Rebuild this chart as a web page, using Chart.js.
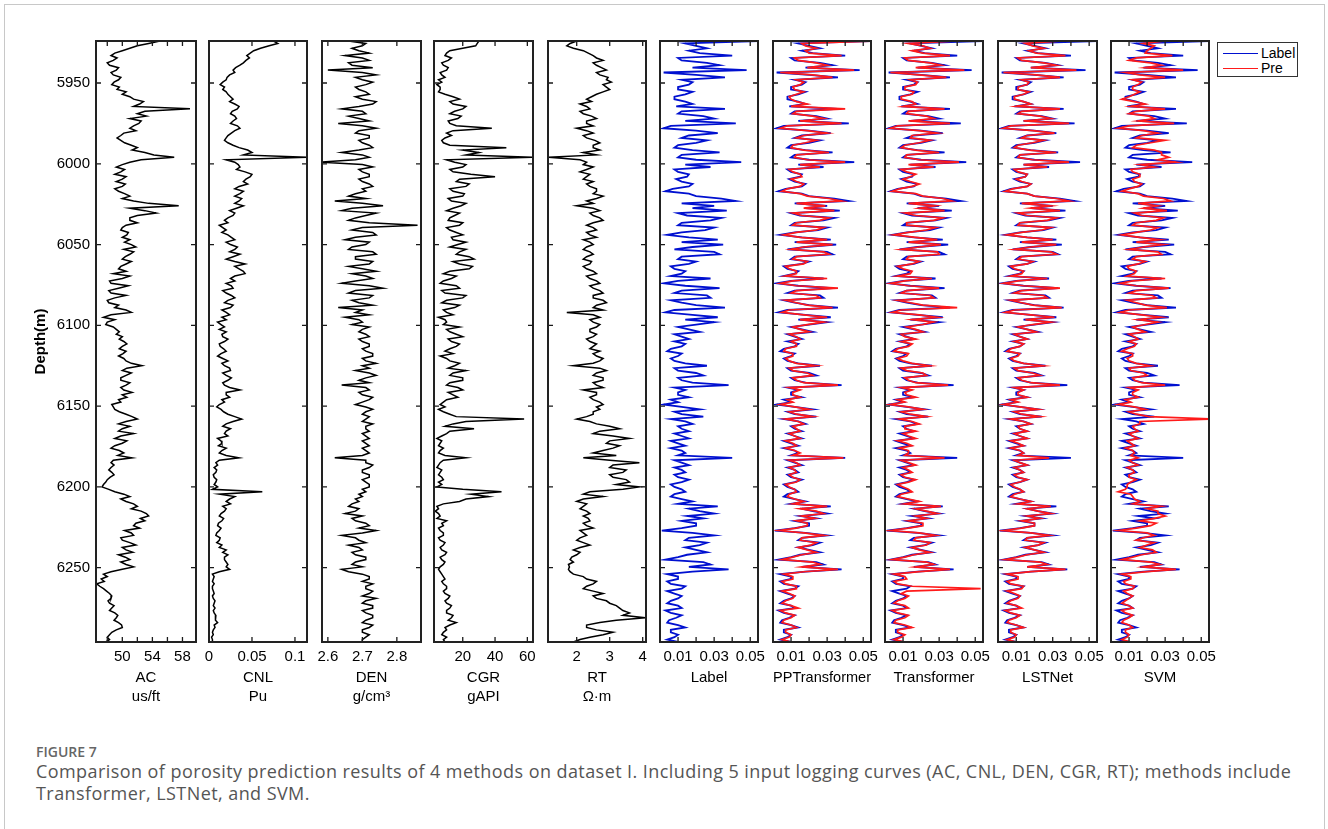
<!DOCTYPE html>
<html><head><meta charset="utf-8">
<script src="https://cdn.jsdelivr.net/npm/chart.js@4.4.1/dist/chart.umd.min.js"></script>
<style>
html,body{margin:0;padding:0;background:#fff;width:1328px;height:829px;overflow:hidden;position:relative;}
#frame{position:absolute;left:4px;top:4px;width:1319px;height:900px;border:1px solid #c8c8c8;}
canvas{position:absolute;top:0;}
#legend{position:absolute;left:1217px;top:42px;width:79px;height:33px;border:1.3px solid #333;background:#fff;font:14px 'Liberation Sans',Arial,sans-serif;color:#000;}
#legend .row{position:absolute;left:0;height:16px;line-height:16px;}
#legend .ln{position:absolute;left:5px;width:35px;height:0;top:8px;border-top:1.8px solid;}
#legend .tx{position:absolute;left:43px;top:0;}
#figlabel{position:absolute;left:36px;top:744px;font:600 14px/16px 'Open Sans',sans-serif;color:#666;}
#caption{position:absolute;left:36px;top:760px;font:400 18px/22px 'Open Sans',sans-serif;letter-spacing:0.43px;color:#555;white-space:nowrap;}
</style></head><body>
<div id="frame"></div>
<div id="plots"></div>
<div id="legend">
  <div class="row" style="top:2px"><div class="ln" style="border-color:#0010d0"></div><div class="tx">Label</div></div>
  <div class="row" style="top:17px"><div class="ln" style="border-color:#ff1a1a"></div><div class="tx">Pre</div></div>
</div>
<div id="figlabel">FIGURE 7</div>
<div id="caption">Comparison of porosity prediction results of 4 methods on dataset I. Including 5 input logging curves (AC, CNL, DEN, CGR, RT); methods include<br>Transformer, LSTNet, and SVM.</div>
<script>
// ---------------- depth grids (m) ----------------
const depth = [5924,5927,5930,5933,5936,5939,5942,5945,5948,5951,
5954,5957,5960,5963,5966,5969,5972,5975,5978,5981,
5984,5987,5990,5993,5996,5999,6002,6005,6008,6011,
6014,6017,6020,6023,6026,6029,6032,6035,6038,6041,
6044,6047,6050,6053,6056,6059,6062,6065,6068,6071,
6074,6077,6080,6083,6086,6089,6092,6095,6098,6101,
6104,6107,6110,6113,6116,6119,6122,6125,6128,6131,
6134,6137,6140,6143,6146,6149,6152,6155,6158,6161,
6164,6167,6170,6173,6176,6179,6182,6185,6188,6191,
6194,6197,6200,6203,6206,6209,6212,6215,6218,6221,
6224,6227,6230,6233,6236,6239,6242,6245,6248,6251,
6254,6257,6260,6263,6266,6269,6272,6275,6278,6281,
6284,6287,6290,6293,6296];
const depthMid = [5925.5,5928.5,5931.5,5934.5,5937.5,5940.5,5943.5,5946.5,5949.5,5952.5,
5955.5,5958.5,5961.5,5964.5,5967.5,5970.5,5973.5,5976.5,5979.5,5982.5,
5985.5,5988.5,5991.5,5994.5,5997.5,6000.5,6003.5,6006.5,6009.5,6012.5,
6015.5,6018.5,6021.5,6024.5,6027.5,6030.5,6033.5,6036.5,6039.5,6042.5,
6045.5,6048.5,6051.5,6054.5,6057.5,6060.5,6063.5,6066.5,6069.5,6072.5,
6075.5,6078.5,6081.5,6084.5,6087.5,6090.5,6093.5,6096.5,6099.5,6102.5,
6105.5,6108.5,6111.5,6114.5,6117.5,6120.5,6123.5,6126.5,6129.5,6132.5,
6135.5,6138.5,6141.5,6144.5,6147.5,6150.5,6153.5,6156.5,6159.5,6162.5,
6165.5,6168.5,6171.5,6174.5,6177.5,6180.5,6183.5,6186.5,6189.5,6192.5,
6195.5,6198.5,6201.5,6204.5,6207.5,6210.5,6213.5,6216.5,6219.5,6222.5,
6225.5,6228.5,6231.5,6234.5,6237.5,6240.5,6243.5,6246.5,6249.5,6252.5,
6255.5,6258.5,6261.5,6264.5,6267.5,6270.5,6273.5,6276.5,6279.5,6282.5,
6285.5,6288.5,6291.5,6294.5];
const depthTicks = [5950,6000,6050,6100,6150,6200,6250];

// ---------------- AC (us/ft) ----------------
const acVals = [55,52,50,48.5,48.8,48.3,49.2,48.8,49.5,48.6,
49.3,50,51.5,52.3,59,52,51,52.2,51,50.2,
49.3,50.3,52,53,56.9,51,49.2,49.8,50.5,49.2,
50,49.5,51,51.5,57.5,53,52,51,50.5,49.8,
50.6,51,51.2,50.2,51,50,50.5,49.5,48.8,50,
48.5,49.5,48.5,49,48.2,49,51.2,47.5,48,48.8,
49.6,50,50.2,50,50.5,49.5,50.5,52.6,50,50.5,
49.8,50.5,50.2,50,49.5,48.6,49,50.5,52,49.5,
50,51.5,49,50,48.5,50.2,51.3,48.5,48.5,48.6,
48.4,47.8,47.3,49,51,50.5,52,52.5,53.5,53,
51.5,50.3,51.5,50,51.8,50.5,49.5,51,50.5,50,
47.5,47.2,46.6,47.5,48.3,48.5,48.3,48.6,49,49.2,
49.5,50,48.6,48,47.8];
const acValsMid = [53.5,51,49,49.3,48,49.5,48.5,49.8,48.9,49.6,
50.5,51,52.8,51.5,53,53.2,52.5,51.5,51.8,49.8,
49.8,51.2,51.3,54.2,52.5,50,50.3,49,50,50.4,
49,50.3,50,53.5,51,54.5,51,52,50,50.8,
50,50.3,51.8,51.5,50.4,51.2,49.8,50.5,51,48.3,
50.8,48.2,50.5,48,49.5,50.5,48.5,49,47.8,49.2,
49.2,49.6,50.6,49.6,50.1,50.2,51.2,50.6,51.2,49.8,
51,49.8,51.3,50.6,49.8,48.8,49.6,51.3,50.5,51,
49.5,49.8,50.6,49,49.6,49.4,48.8,48.9,48.2,48.9,
48,47.5,48.2,50.2,49.8,51.5,51.2,53.2,52.4,51.8,
52.3,51.2,49.8,51,50,51.4,50.4,49.8,51.5,48.5,
48,47.6,47,47.9,48.6,48.1,48.9,48.3,49.4,48.9,
49.9,49.2,48.3,48.3];

// ---------------- CNL (Pu) ----------------
const cnlVals = [0.075,0.07,0.052,0.044,0.043,0.036,0.028,0.024,0.02,0.013,
0.016,0.022,0.028,0.03,0.033,0.025,0.032,0.025,0.036,0.026,
0.02,0.022,0.035,0.05,0.114,0.03,0.036,0.042,0.048,0.04,
0.035,0.04,0.03,0.035,0.04,0.024,0.028,0.018,0.012,0.02,
0.022,0.03,0.025,0.03,0.036,0.02,0.042,0.035,0.042,0.025,
0.02,0.028,0.02,0.03,0.018,0.025,0.02,0.015,0.01,0.018,
0.02,0.016,0.018,0.013,0.02,0.01,0.022,0.018,0.025,0.02,
0.022,0.018,0.036,0.02,0.015,0.012,0.014,0.022,0.038,0.02,
0.025,0.018,0.01,0.015,0.02,0.012,0.035,0.008,0.006,0.008,
0.006,0.008,0.01,0.062,0.03,0.02,0.016,0.018,0.012,0.015,
0.01,0.012,0.008,0.012,0.015,0.02,0.022,0.018,0.022,0.024,
0.004,0.005,0.006,0.004,0.006,0.005,0.006,0.007,0.006,0.008,
0.01,0.007,0.004,0.003,0.004];
const cnlValsMid = [0.08,0.06,0.048,0.047,0.04,0.031,0.03,0.021,0.016,0.018,
0.02,0.025,0.024,0.035,0.027,0.03,0.028,0.033,0.03,0.022,
0.018,0.028,0.045,0.04,0.02,0.034,0.032,0.05,0.043,0.045,
0.03,0.036,0.038,0.03,0.032,0.03,0.022,0.022,0.016,0.015,
0.026,0.02,0.033,0.024,0.028,0.03,0.03,0.04,0.03,0.03,
0.026,0.016,0.026,0.022,0.028,0.015,0.024,0.02,0.014,0.012,
0.015,0.022,0.012,0.017,0.014,0.016,0.015,0.024,0.016,0.026,
0.016,0.024,0.02,0.024,0.018,0.009,0.017,0.03,0.028,0.016,
0.02,0.022,0.014,0.011,0.015,0.02,0.012,0.01,0.009,0.005,
0.009,0.006,0.004,0.012,0.024,0.025,0.02,0.014,0.017,0.011,
0.014,0.009,0.013,0.009,0.012,0.016,0.018,0.02,0.02,0.012,
0.006,0.004,0.004,0.005,0.004,0.007,0.005,0.005,0.008,0.007,
0.006,0.005,0.005,0.004];

// ---------------- DEN (g/cm3) ----------------
const denVals = [2.66,2.70,2.69,2.65,2.72,2.67,2.60,2.74,2.70,2.71,
2.69,2.72,2.70,2.73,2.64,2.71,2.69,2.63,2.74,2.68,
2.72,2.70,2.73,2.64,2.72,2.58,2.73,2.70,2.72,2.70,
2.73,2.71,2.66,2.62,2.76,2.64,2.71,2.66,2.86,2.67,
2.74,2.65,2.71,2.66,2.74,2.68,2.72,2.70,2.67,2.73,
2.64,2.76,2.66,2.72,2.69,2.63,2.68,2.65,2.70,2.72,
2.69,2.72,2.70,2.72,2.71,2.73,2.71,2.70,2.68,2.74,
2.69,2.64,2.72,2.70,2.72,2.68,2.73,2.70,2.71,2.73,
2.71,2.70,2.72,2.71,2.70,2.72,2.62,2.71,2.72,2.70,
2.72,2.71,2.72,2.71,2.70,2.69,2.66,2.68,2.70,2.68,
2.72,2.74,2.64,2.69,2.66,2.70,2.68,2.71,2.67,2.64,
2.70,2.72,2.73,2.71,2.72,2.74,2.70,2.73,2.71,2.73,
2.70,2.72,2.70,2.71,2.70];
const denValsMid = [2.71,2.67,2.72,2.70,2.66,2.73,2.70,2.68,2.73,2.68,
2.71,2.68,2.74,2.69,2.70,2.66,2.72,2.70,2.69,2.72,
2.69,2.72,2.69,2.70,2.68,2.70,2.69,2.72,2.69,2.72,
2.70,2.68,2.71,2.70,2.67,2.74,2.68,2.72,2.70,2.73,
2.68,2.72,2.67,2.73,2.68,2.73,2.66,2.74,2.71,2.68,
2.72,2.68,2.73,2.67,2.73,2.70,2.72,2.69,2.67,2.70,
2.71,2.69,2.72,2.70,2.73,2.70,2.74,2.72,2.72,2.71,
2.72,2.71,2.69,2.73,2.70,2.71,2.71,2.72,2.70,2.71,
2.72,2.71,2.70,2.72,2.71,2.70,2.71,2.73,2.70,2.72,
2.70,2.72,2.70,2.69,2.68,2.67,2.69,2.65,2.67,2.71,
2.69,2.70,2.68,2.71,2.69,2.67,2.71,2.68,2.70,2.66,
2.72,2.70,2.71,2.73,2.70,2.71,2.73,2.70,2.73,2.71,
2.73,2.70,2.72,2.70];

// ---------------- CGR (gAPI) ----------------
const cgrVals = [30,28,12,9,11,8,10,7,5,4,
6,9,18,14,20,12,17,12,38,10,
9,8,47,30,63,15,20,14,40,16,
22,14,20,13,19,10,15,11,18,12,
20,14,17,22,16,27,18,24,8,13,
6,18,9,20,7,15,10,5,10,18,
12,20,13,16,9,6,12,15,22,12,
20,10,20,14,10,6,5,12,58,14,
27,10,4,6,8,5,22,6,4,6,
7,5,4,44,36,18,4,3,6,10,
8,6,8,6,8,7,9,7,8,5,
7,9,8,10,9,11,10,12,10,13,
16,9,8,10,9];
const cgrValsMid = [29,20,10,13,7,11,6,9,7,6,
5,14,12,22,15,19,11,16,14,13,
7,12,20,22,10,22,12,25,18,24,
12,21,11,22,14,18,12,20,10,16,
13,22,12,18,24,14,26,12,16,8,
16,7,22,10,18,8,14,9,8,10,
16,11,18,12,14,10,18,11,14,20,
12,17,11,17,8,9,8,16,22,9,
12,7,7,5,6,9,8,5,7,5,
8,7,20,25,22,8,5,5,4,7,
5,8,5,9,6,10,6,9,6,6,
8,7,10,8,12,9,13,10,14,11,
12,10,7,8];

// ---------------- RT (ohm.m) ----------------
const rtVals = [2.0,1.7,2.2,2.5,2.8,2.6,2.9,2.7,2.9,2.8,
3.0,2.6,2.3,2.1,2.4,2.2,2.6,2.3,2.0,2.5,
2.3,2.7,2.5,2.2,1.15,2.3,2.5,2.1,2.3,2.5,
2.4,2.6,2.8,2.3,2.0,2.7,2.5,2.8,2.3,2.6,
2.4,2.2,2.5,2.2,2.5,2.2,2.4,2.3,2.6,2.4,
2.7,2.5,2.8,2.5,2.9,2.5,1.7,2.7,2.5,2.6,
2.4,2.5,2.4,2.5,2.7,2.6,2.7,1.9,2.9,2.5,
2.8,2.6,2.2,2.6,2.5,2.8,2.7,2.5,2.0,2.6,
3.3,2.5,3.6,2.9,3.1,2.5,2.2,3.9,3.0,3.4,
3.1,3.6,3.9,2.4,2.8,2.0,2.2,2.3,2.2,2.4,
2.3,2.1,2.3,2.0,2.4,1.9,2.0,1.8,1.75,1.75,
1.9,2.3,2.5,2.2,2.8,2.6,3.0,3.3,3.6,4.08,
2.7,2.3,3.1,2.4,1.9];
const rtValsMid = [1.8,1.9,2.35,2.6,2.5,2.75,2.6,2.95,3.05,2.9,
2.8,2.45,2.45,2.3,2.1,2.45,2.3,2.5,2.3,2.2,
2.55,2.5,2.7,2.6,2.1,2.2,2.3,2.4,2.2,2.3,
2.6,2.5,2.6,2.5,2.5,2.4,2.7,2.5,2.5,2.3,
2.6,2.4,2.3,2.4,2.3,2.45,2.2,2.5,2.3,2.6,
2.4,2.7,2.5,2.8,2.6,2.8,2.5,2.4,2.7,2.4,
2.6,2.3,2.6,2.4,2.5,2.8,2.5,2.7,2.6,2.8,
2.5,2.8,2.6,2.4,2.7,2.6,2.5,2.3,2.4,3.0,
2.7,3.1,3.0,3.3,2.8,3.2,3.0,3.1,3.5,3.0,
3.5,3.2,3.4,2.2,2.2,2.3,2.1,2.4,2.35,2.2,
2.5,2.2,2.1,2.2,2.1,2.1,1.85,1.9,1.78,1.8,
2.2,2.6,2.3,2.5,2.5,2.9,3.2,3.4,3.4,3.2,
2.3,2.6,2.8,2.1];

// ---------------- porosity: label ----------------
const labelVals = [0.055,0.020,0.016,0.040,0.012,0.033,0.048,0.020,0.012,0.016,
0.010,0.014,0.008,0.018,0.036,0.010,0.030,0.042,0.002,0.032,
0.012,0.020,0.008,0.033,0.010,0.045,0.028,0.010,0.015,0.012,
0.016,0.003,0.020,0.042,0.030,0.037,0.015,0.028,0.010,0.025,
0.004,0.032,0.035,0.008,0.033,0.010,0.016,0.008,0.012,0.028,
0.002,0.033,0.008,0.028,0.012,0.036,0.003,0.032,0.030,0.010,
0.022,0.012,0.008,0.012,0.004,0.010,0.008,0.026,0.010,0.024,
0.012,0.038,0.014,0.010,0.006,0.002,0.022,0.012,0.006,0.018,
0.012,0.008,0.016,0.010,0.006,0.014,0.040,0.012,0.008,0.014,
0.010,0.012,0.008,0.014,0.006,0.018,0.032,0.022,0.015,0.012,
0.020,0.001,0.030,0.014,0.022,0.020,0.015,0.003,0.028,0.038,
0.004,0.010,0.006,0.012,0.008,0.010,0.004,0.012,0.006,0.009,
0.004,0.014,0.006,0.008,0.010];
const labelValsMid = [0.014,0.026,0.022,0.010,0.026,0.018,0.002,0.036,0.018,0.010,
0.018,0.008,0.014,0.009,0.012,0.024,0.014,0.006,0.020,0.016,
0.026,0.010,0.018,0.012,0.020,0.014,0.008,0.016,0.009,0.018,
0.007,0.016,0.034,0.012,0.018,0.010,0.034,0.012,0.030,0.012,
0.016,0.012,0.018,0.030,0.012,0.020,0.006,0.014,0.006,0.010,
0.014,0.012,0.026,0.006,0.020,0.008,0.018,0.014,0.020,0.016,
0.008,0.016,0.014,0.006,0.012,0.006,0.014,0.008,0.020,0.010,
0.018,0.008,0.010,0.016,0.010,0.012,0.008,0.024,0.014,0.010,
0.016,0.012,0.006,0.014,0.012,0.010,0.008,0.016,0.012,0.008,
0.016,0.006,0.012,0.008,0.012,0.010,0.016,0.030,0.024,0.020,
0.012,0.018,0.016,0.026,0.014,0.026,0.010,0.024,0.016,0.018,
0.010,0.004,0.014,0.004,0.012,0.006,0.010,0.003,0.012,0.005,
0.010,0.006,0.010,0.004];

// ---------------- porosity: PPTransformer ----------------
const ppTransformerVals = [0.055,0.018,0.018,0.038,0.014,0.030,0.045,0.022,0.013,0.015,
0.012,0.013,0.010,0.019,0.040,0.011,0.028,0.038,0.004,0.030,
0.013,0.018,0.010,0.031,0.012,0.040,0.026,0.011,0.016,0.013,
0.015,0.005,0.019,0.038,0.029,0.034,0.016,0.026,0.011,0.024,
0.006,0.030,0.033,0.010,0.031,0.011,0.017,0.009,0.013,0.030,
0.004,0.036,0.010,0.026,0.013,0.033,0.005,0.030,0.028,0.011,
0.020,0.013,0.010,0.013,0.006,0.011,0.009,0.024,0.011,0.022,
0.013,0.036,0.015,0.011,0.008,0.004,0.020,0.013,0.007,0.017,
0.013,0.009,0.015,0.011,0.007,0.015,0.039,0.013,0.009,0.013,
0.011,0.013,0.009,0.013,0.008,0.017,0.030,0.024,0.016,0.013,
0.019,0.003,0.028,0.015,0.021,0.019,0.016,0.005,0.026,0.036,
0.006,0.011,0.007,0.013,0.009,0.011,0.005,0.014,0.007,0.010,
0.005,0.013,0.007,0.009,0.010];
const ppTransformerValsMid = [0.016,0.024,0.020,0.012,0.024,0.019,0.004,0.033,0.017,0.011,
0.017,0.009,0.013,0.010,0.013,0.022,0.015,0.008,0.019,0.017,
0.024,0.011,0.017,0.013,0.019,0.015,0.009,0.015,0.010,0.017,
0.008,0.015,0.031,0.013,0.017,0.011,0.031,0.013,0.028,0.013,
0.015,0.013,0.017,0.028,0.013,0.019,0.007,0.013,0.007,0.011,
0.013,0.013,0.024,0.007,0.019,0.009,0.017,0.015,0.019,0.015,
0.009,0.015,0.013,0.007,0.011,0.007,0.013,0.009,0.019,0.011,
0.017,0.009,0.011,0.015,0.011,0.012,0.009,0.022,0.014,0.011,
0.015,0.012,0.007,0.013,0.012,0.011,0.009,0.015,0.012,0.009,
0.015,0.007,0.012,0.009,0.012,0.011,0.015,0.028,0.023,0.019,
0.013,0.017,0.016,0.024,0.014,0.024,0.011,0.022,0.016,0.017,
0.011,0.005,0.013,0.005,0.012,0.007,0.010,0.004,0.012,0.006,
0.010,0.007,0.010,0.005];

// ---------------- porosity: Transformer ----------------
const transformerVals = [0.040,0.021,0.015,0.036,0.013,0.031,0.044,0.019,0.014,0.017,
0.011,0.015,0.009,0.017,0.033,0.012,0.027,0.036,0.003,0.029,
0.014,0.019,0.009,0.030,0.011,0.041,0.027,0.012,0.014,0.014,
0.015,0.004,0.021,0.037,0.028,0.033,0.017,0.027,0.012,0.023,
0.005,0.029,0.031,0.009,0.030,0.012,0.015,0.010,0.014,0.026,
0.003,0.030,0.009,0.027,0.014,0.040,0.004,0.029,0.027,0.012,
0.021,0.011,0.009,0.013,0.005,0.012,0.010,0.025,0.012,0.023,
0.013,0.035,0.015,0.012,0.007,0.003,0.021,0.014,0.008,0.019,
0.011,0.010,0.017,0.012,0.008,0.013,0.033,0.013,0.010,0.015,
0.011,0.013,0.010,0.015,0.007,0.019,0.031,0.023,0.017,0.013,
0.021,0.003,0.028,0.016,0.023,0.019,0.016,0.004,0.027,0.036,
0.005,0.012,0.007,0.053,0.009,0.011,0.005,0.013,0.007,0.011,
0.005,0.015,0.007,0.009,0.011];
const transformerValsMid = [0.013,0.025,0.021,0.011,0.025,0.017,0.003,0.034,0.018,0.011,
0.016,0.009,0.015,0.010,0.013,0.023,0.013,0.007,0.019,0.015,
0.025,0.011,0.017,0.012,0.019,0.013,0.009,0.017,0.010,0.019,
0.008,0.017,0.032,0.013,0.019,0.011,0.032,0.012,0.028,0.013,
0.017,0.013,0.019,0.029,0.013,0.019,0.007,0.015,0.007,0.011,
0.013,0.012,0.025,0.007,0.021,0.009,0.019,0.015,0.021,0.017,
0.009,0.017,0.015,0.007,0.013,0.007,0.015,0.009,0.021,0.011,
0.017,0.009,0.011,0.017,0.011,0.013,0.009,0.023,0.015,0.011,
0.017,0.013,0.007,0.015,0.013,0.011,0.009,0.017,0.013,0.009,
0.017,0.007,0.013,0.009,0.013,0.011,0.017,0.029,0.023,0.021,
0.013,0.019,0.017,0.025,0.015,0.025,0.011,0.023,0.017,0.019,
0.011,0.005,0.015,0.012,0.013,0.007,0.011,0.004,0.013,0.006,
0.011,0.007,0.011,0.005];

// ---------------- porosity: LSTNet ----------------
const lstnetVals = [0.035,0.019,0.017,0.037,0.013,0.032,0.043,0.021,0.013,0.016,
0.011,0.014,0.009,0.018,0.034,0.011,0.029,0.039,0.003,0.031,
0.013,0.019,0.009,0.032,0.011,0.039,0.027,0.011,0.015,0.013,
0.016,0.004,0.020,0.039,0.029,0.034,0.016,0.027,0.011,0.024,
0.005,0.030,0.032,0.009,0.032,0.011,0.016,0.009,0.013,0.027,
0.003,0.034,0.009,0.027,0.013,0.035,0.004,0.031,0.029,0.011,
0.021,0.012,0.009,0.012,0.005,0.011,0.009,0.025,0.011,0.023,
0.013,0.034,0.014,0.011,0.007,0.003,0.022,0.013,0.007,0.018,
0.012,0.009,0.016,0.011,0.007,0.014,0.028,0.012,0.009,0.014,
0.011,0.012,0.009,0.014,0.007,0.018,0.029,0.022,0.016,0.013,
0.020,0.003,0.028,0.015,0.022,0.020,0.016,0.004,0.027,0.037,
0.005,0.011,0.007,0.013,0.009,0.011,0.005,0.013,0.007,0.010,
0.005,0.014,0.007,0.009,0.010];
const lstnetValsMid = [0.015,0.025,0.021,0.011,0.025,0.018,0.003,0.034,0.017,0.011,
0.017,0.009,0.014,0.010,0.013,0.023,0.014,0.007,0.019,0.016,
0.025,0.011,0.017,0.012,0.019,0.014,0.009,0.016,0.010,0.018,
0.008,0.016,0.032,0.013,0.018,0.011,0.032,0.012,0.029,0.013,
0.016,0.013,0.018,0.029,0.013,0.019,0.007,0.014,0.007,0.011,
0.014,0.013,0.025,0.007,0.019,0.009,0.018,0.015,0.019,0.016,
0.009,0.016,0.014,0.007,0.012,0.007,0.014,0.009,0.019,0.011,
0.018,0.009,0.011,0.016,0.011,0.012,0.009,0.023,0.014,0.011,
0.016,0.012,0.007,0.014,0.012,0.011,0.009,0.016,0.012,0.009,
0.016,0.007,0.012,0.009,0.012,0.011,0.016,0.029,0.023,0.020,
0.013,0.018,0.016,0.025,0.015,0.025,0.011,0.023,0.016,0.018,
0.011,0.005,0.014,0.005,0.012,0.007,0.010,0.004,0.012,0.006,
0.010,0.007,0.010,0.005];

// ---------------- porosity: SVM ----------------
const svmVals = [0.030,0.024,0.020,0.034,0.010,0.028,0.040,0.016,0.012,0.015,
0.012,0.013,0.006,0.019,0.030,0.010,0.024,0.035,0.004,0.026,
0.014,0.022,0.012,0.028,0.032,0.036,0.024,0.012,0.016,0.013,
0.015,0.006,0.018,0.033,0.026,0.031,0.017,0.025,0.012,0.022,
0.006,0.027,0.029,0.010,0.028,0.012,0.015,0.010,0.013,0.030,
0.005,0.032,0.010,0.025,0.014,0.031,0.005,0.028,0.026,0.012,
0.019,0.013,0.010,0.013,0.006,0.012,0.010,0.022,0.011,0.020,
0.013,0.030,0.015,0.012,0.008,0.004,0.019,0.014,0.056,0.016,
0.013,0.010,0.015,0.011,0.008,0.013,0.015,0.012,0.009,0.013,
0.010,0.011,0.009,0.004,0.012,0.016,0.028,0.026,0.030,0.016,
0.022,0.004,0.024,0.014,0.020,0.023,0.017,0.006,0.027,0.036,
0.006,0.011,0.008,0.012,0.009,0.010,0.006,0.012,0.008,0.010,
0.006,0.012,0.008,0.009,0.011];
const svmValsMid = [0.018,0.022,0.019,0.014,0.022,0.019,0.008,0.030,0.017,0.012,
0.016,0.010,0.013,0.011,0.014,0.021,0.015,0.010,0.018,0.017,
0.030,0.014,0.024,0.028,0.026,0.016,0.011,0.016,0.012,0.017,
0.010,0.015,0.029,0.015,0.018,0.013,0.029,0.014,0.026,0.014,
0.016,0.014,0.018,0.026,0.014,0.019,0.009,0.014,0.009,0.012,
0.014,0.014,0.023,0.009,0.019,0.010,0.017,0.015,0.019,0.015,
0.010,0.015,0.014,0.009,0.012,0.009,0.014,0.010,0.018,0.012,
0.017,0.010,0.012,0.015,0.011,0.013,0.010,0.021,0.016,0.012,
0.015,0.012,0.009,0.013,0.012,0.011,0.010,0.015,0.012,0.010,
0.014,0.009,0.008,0.011,0.013,0.012,0.020,0.026,0.024,0.025,
0.014,0.020,0.018,0.024,0.016,0.025,0.012,0.022,0.018,0.020,
0.011,0.007,0.013,0.007,0.012,0.008,0.010,0.006,0.012,0.007,
0.010,0.008,0.010,0.006];

// ---------------- tick values ----------------
const acTicks = [48,50,52,54,56,58], acTickLabels = [50,54,58];
const cnlTicks = [0,0.05,0.1], cnlTickLabels = [0,0.05,0.1];
const denTicks = [2.6,2.7,2.8], denTickLabels = [2.6,2.7,2.8];
const cgrTicks = [20,40,60], cgrTickLabels = [20,40,60];
const rtTicks = [2,3,4], rtTickLabels = [2,3,4];
const poroTicks = [0.01,0.02,0.03,0.04,0.05], poroTickLabels = [0.01,0.03,0.05];

// ---------------- layout / style ----------------
const FONT = "'Liberation Sans', Arial, sans-serif";
const BLACK = '#000000', BLUE = '#0010d0', RED = '#ff1a1a';
const boxLeft  = [96,209,322,434,548,660,773,885,998,1111];
const boxRight = [196,307,421,533,646,758,871,983,1097,1209];
const CANVAS_H = 740, AREA_TOP = 41, AREA_BOTTOM = 642;

const panels = [
  {title:['AC','us/ft'], min:46.5, max:59.8, ticks:acTicks, labels:acTickLabels, series:[{v:acVals,m:acValsMid,c:BLACK,w:1.5}]},
  {title:['CNL','Pu'], min:0, max:0.114, ticks:cnlTicks, labels:cnlTickLabels, series:[{v:cnlVals,m:cnlValsMid,c:BLACK,w:1.5}]},
  {title:['DEN','g/cm\u00B3'], min:2.583, max:2.87, ticks:denTicks, labels:denTickLabels, series:[{v:denVals,m:denValsMid,c:BLACK,w:1.5}]},
  {title:['CGR','gAPI'], min:2.2, max:63.5, ticks:cgrTicks, labels:cgrTickLabels, series:[{v:cgrVals,m:cgrValsMid,c:BLACK,w:1.5}]},
  {title:['RT','\u03A9\u00B7m'], min:1.13, max:4.1, ticks:rtTicks, labels:rtTickLabels, series:[{v:rtVals,m:rtValsMid,c:BLACK,w:1.5}]},
  {title:['Label',''], min:0, max:0.0543, ticks:poroTicks, labels:poroTickLabels, series:[{v:labelVals,m:labelValsMid,c:BLUE,w:1.8}]},
  {title:['PPTransformer',''], min:0, max:0.0543, ticks:poroTicks, labels:poroTickLabels, series:[{v:labelVals,m:labelValsMid,c:BLUE,w:1.8},{v:ppTransformerVals,m:ppTransformerValsMid,c:RED,w:1.7}]},
  {title:['Transformer',''], min:0, max:0.0543, ticks:poroTicks, labels:poroTickLabels, series:[{v:labelVals,m:labelValsMid,c:BLUE,w:1.8},{v:transformerVals,m:transformerValsMid,c:RED,w:1.7}]},
  {title:['LSTNet',''], min:0, max:0.0543, ticks:poroTicks, labels:poroTickLabels, series:[{v:labelVals,m:labelValsMid,c:BLUE,w:1.8},{v:lstnetVals,m:lstnetValsMid,c:RED,w:1.7}]},
  {title:['SVM',''], min:0, max:0.0543, ticks:poroTicks, labels:poroTickLabels, series:[{v:labelVals,m:labelValsMid,c:BLUE,w:1.8},{v:svmVals,m:svmValsMid,c:RED,w:1.7}]}
];

// merge the readings of the two depth grids in depth order
function points(vals, mids) {
  const out = [];
  depth.forEach((d, i) => {
    out.push({x: vals[i], y: d});
    if (i < depthMid.length) out.push({x: mids[i], y: depthMid[i]});
  });
  return out;
}

const frameTicks = {
  id: 'frameTicks',
  afterDatasetsDraw(chart) {
    const {ctx, chartArea: a, scales} = chart;
    const L = 5;
    ctx.save();
    ctx.strokeStyle = '#1a1a1a';
    ctx.lineWidth = 1.3;
    ctx.beginPath();
    scales.x.ticks.forEach(t => {
      const px = scales.x.getPixelForValue(t.value);
      ctx.moveTo(px, a.bottom); ctx.lineTo(px, a.bottom - L);
      ctx.moveTo(px, a.top); ctx.lineTo(px, a.top + L);
    });
    scales.y.ticks.forEach(t => {
      const py = scales.y.getPixelForValue(t.value);
      ctx.moveTo(a.left, py); ctx.lineTo(a.left + L, py);
      ctx.moveTo(a.right, py); ctx.lineTo(a.right - L, py);
    });
    ctx.stroke();
    ctx.lineWidth = 2;
    ctx.strokeStyle = '#222';
    ctx.strokeRect(a.left, a.top, a.right - a.left, a.bottom - a.top);
    ctx.restore();
  }
};

const host = document.getElementById('plots');
panels.forEach((p, k) => {
  const padL = k === 0 ? boxLeft[0] : 40;
  const padR = 30;
  const cv = document.createElement('canvas');
  const w = padL + (boxRight[k] - boxLeft[k]) + padR;
  cv.width = w; cv.height = CANVAS_H;
  cv.style.left = (boxLeft[k] - padL) + 'px';
  cv.style.width = w + 'px'; cv.style.height = CANVAS_H + 'px';
  host.appendChild(cv);

  const datasets = p.series.map((s, j) => ({
    data: points(s.v, s.m),
    showLine: true, borderColor: s.c, backgroundColor: s.c, borderWidth: s.w,
    pointRadius: 0, pointHoverRadius: 0, tension: 0, fill: false,
    order: p.series.length - j
  }));

  new Chart(cv, {
    type: 'scatter',
    data: {datasets},
    plugins: [frameTicks],
    options: {
      responsive: false, animation: false, devicePixelRatio: 1,
      layout: {padding: {left: 0, right: padR, top: AREA_TOP, bottom: 0}},
      plugins: {legend: {display: false}, tooltip: {enabled: false}},
      events: [],
      scales: {
        x: {
          type: 'linear', position: 'bottom', min: p.min, max: p.max,
          grid: {display: false, drawTicks: false}, border: {display: false},
          ticks: {autoSkip: false, maxRotation: 0, minRotation: 0, padding: 6,
                  font: {family: FONT, size: 15}, color: '#000',
                  callback: v => p.labels.includes(v) ? String(v) : ''},
          afterBuildTicks: s => { s.ticks = p.ticks.map(v => ({value: v})); },
          afterFit: s => { s.height = CANVAS_H - AREA_BOTTOM; s.paddingLeft = 0; s.paddingRight = 0; },
          title: {display: true, text: p.title, color: '#000',
                  font: {family: FONT, size: 15, lineHeight: 1.3}, padding: {top: 0, bottom: 33}}
        },
        y: {
          type: 'linear', position: 'left', reverse: true, min: 5924, max: 6296,
          grid: {display: false, drawTicks: false}, border: {display: false},
          ticks: {display: k === 0, autoSkip: false, padding: 6,
                  font: {family: FONT, size: 15}, color: '#000', callback: v => String(v)},
          afterBuildTicks: s => { s.ticks = depthTicks.map(v => ({value: v})); },
          afterFit: s => { s.width = padL; s.paddingTop = 0; s.paddingBottom = 0; },
          title: {display: k === 0, text: 'Depth(m)', color: '#000',
                  font: {family: FONT, size: 15, weight: 'bold', lineHeight: 1.2}, padding: {top: 32, bottom: 0}}
        }
      }
    }
  });
});
</script>
</body></html>
